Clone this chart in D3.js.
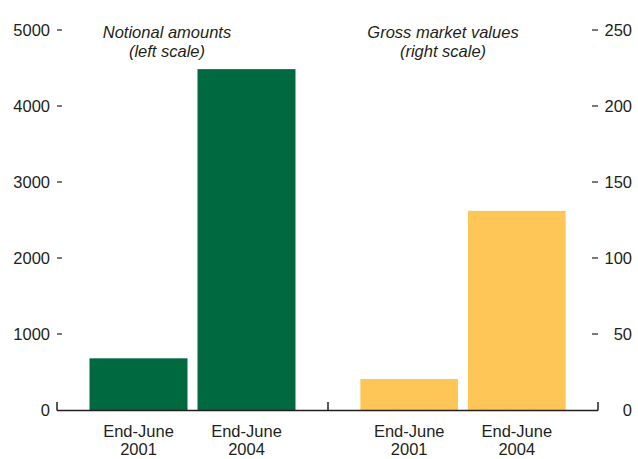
<!DOCTYPE html>
<html>
<head>
<meta charset="utf-8">
<script src="https://cdn.jsdelivr.net/npm/d3@7"></script>
<style>
  html, body { margin: 0; padding: 0; background: #fff; }
  svg text { font-family: "Liberation Sans", Arial, sans-serif; fill: #231f20; }
</style>
</head>
<body>
<svg id="chart" width="638" height="459"></svg>
<script>
// Outstanding OTC derivatives: notional amounts (left scale) and gross market values (right scale)
const periods = ["End-June 2001", "End-June 2004"];
const notionalAmounts = [680, 4485];      // left scale
const grossMarketValues = [20.4, 131];    // right scale
const leftTicks = [0, 1000, 2000, 3000, 4000, 5000];
const rightTicks = [0, 50, 100, 150, 200, 250];
const panelTitles = [["Notional amounts", "(left scale)"], ["Gross market values", "(right scale)"]];

const svg = d3.select("#chart");
const x0 = 57, xMid = 328, x1 = 598;
const yBase = 410, yTop = 30;

const yLeft = d3.scaleLinear().domain([0, 5000]).range([yBase, yTop]);
const yRight = d3.scaleLinear().domain([0, 250]).range([yBase, yTop]);

const xLeft = d3.scaleBand().domain(periods).range([x0, xMid]).paddingInner(0.0926).paddingOuter(0.301);
const xRight = d3.scaleBand().domain(periods).range([xMid, x1]).paddingInner(0.0926).paddingOuter(0.301);

const green = "#006940", yellow = "#fec657";

// bars
svg.append("g").selectAll("rect").data(periods).join("rect")
  .attr("x", d => xLeft(d)).attr("width", xLeft.bandwidth())
  .attr("y", (d, i) => yLeft(notionalAmounts[i]))
  .attr("height", (d, i) => yBase - yLeft(notionalAmounts[i]))
  .attr("fill", green);

svg.append("g").selectAll("rect").data(periods).join("rect")
  .attr("x", d => xRight(d)).attr("width", xRight.bandwidth())
  .attr("y", (d, i) => yRight(grossMarketValues[i]))
  .attr("height", (d, i) => yBase - yRight(grossMarketValues[i]))
  .attr("fill", yellow);

// left value axis: label followed by a short dash
const la = svg.append("g");
la.selectAll("text").data(leftTicks).join("text")
  .attr("x", 50).attr("y", d => yLeft(d)).attr("dy", "0.35em")
  .attr("text-anchor", "end").attr("font-size", 16.5)
  .text(d => d);
la.selectAll("line").data(leftTicks.filter(d => d > 0)).join("line")
  .attr("x1", x0).attr("x2", x0 + 5)
  .attr("y1", d => yLeft(d)).attr("y2", d => yLeft(d))
  .attr("stroke", "#231f20").attr("stroke-width", 1.2);

// right value axis: dash followed by label
const ra = svg.append("g");
ra.selectAll("text").data(rightTicks).join("text")
  .attr("x", 632).attr("y", d => yRight(d)).attr("dy", "0.35em")
  .attr("text-anchor", "end").attr("font-size", 16.5)
  .text(d => d);
ra.selectAll("line").data(rightTicks.filter(d => d > 0)).join("line")
  .attr("x1", x1 - 6).attr("x2", x1)
  .attr("y1", d => yRight(d)).attr("y2", d => yRight(d))
  .attr("stroke", "#231f20").attr("stroke-width", 1.2);

// baseline with separators
const base = svg.append("g").attr("stroke", "#231f20").attr("stroke-width", 1.5);
base.append("line").attr("x1", x0).attr("x2", x1).attr("y1", yBase + 0.5).attr("y2", yBase + 0.5);
[x0, xMid, x1].forEach(x => {
  base.append("line").attr("x1", x).attr("x2", x).attr("y1", yBase + 0.5).attr("y2", yBase - 8);
});

// category labels
[xLeft, xRight].forEach(sc => {
  const g = svg.append("g");
  periods.forEach(p => {
    const t = g.append("text").attr("text-anchor", "middle").attr("font-size", 16.5)
      .attr("x", sc(p) + sc.bandwidth() / 2);
    const parts = p.split(" ");
    t.append("tspan").attr("x", sc(p) + sc.bandwidth() / 2).attr("y", 437).text(parts[0]);
    t.append("tspan").attr("x", sc(p) + sc.bandwidth() / 2).attr("y", 455).text(parts[1]);
  });
});

// panel titles
[[167, panelTitles[0]], [443, panelTitles[1]]].forEach(([cx, lines]) => {
  const t = svg.append("text").attr("text-anchor", "middle").attr("font-size", 16.5)
    .attr("font-style", "italic");
  t.append("tspan").attr("x", cx).attr("y", 38).text(lines[0]);
  t.append("tspan").attr("x", cx).attr("y", 57).text(lines[1]);
});
</script>
</body>
</html>
